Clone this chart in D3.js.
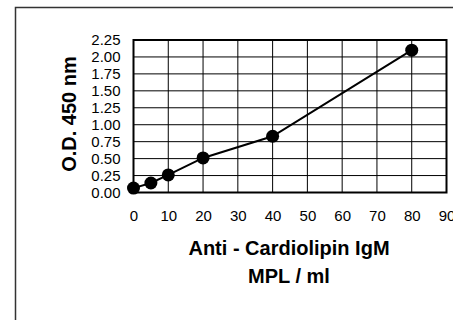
<!DOCTYPE html>
<html>
<head>
<meta charset="utf-8">
<script src="https://cdn.jsdelivr.net/npm/d3@7"></script>
<style>
  body { margin: 0; background: #fff; }
  svg { display: block; font-family: "Liberation Sans", Arial, sans-serif; }
</style>
</head>
<body>
<script>
const conc = [0, 5, 10, 20, 40, 80];
const od = [0.065, 0.14, 0.26, 0.51, 0.83, 2.10];
const xTicks = [0, 10, 20, 30, 40, 50, 60, 70, 80, 90];
const yTicks = [0, 0.25, 0.5, 0.75, 1, 1.25, 1.5, 1.75, 2, 2.25];

const width = 453;
const height = 320;
const plotL = 133.5, plotR = 446.5, plotT = 40, plotB = 192.5;

const svg = d3.select('body')
    .append('svg')
    .attr('width', width)
    .attr('height', height);

// outer frame (only left/top visible)
svg.append('rect')
    .attr('x', 15.5)
    .attr('y', 7.5)
    .attr('width', 460)
    .attr('height', 330)
    .attr('fill', 'none')
    .attr('stroke', '#333')
    .attr('stroke-width', 1.5);

const x = d3.scaleLinear().domain([0, 90]).range([plotL, plotR]);
const y = d3.scaleLinear().domain([0, 2.25]).range([plotB, plotT]);

// grid
svg.append('g')
    .selectAll('line')
    .data(xTicks)
    .enter()
    .append('line')
    .attr('x1', d => x(d)).attr('x2', d => x(d))
    .attr('y1', plotT).attr('y2', plotB)
    .attr('stroke', '#000').attr('stroke-width', 1);

svg.append('g')
    .selectAll('line')
    .data(yTicks)
    .enter()
    .append('line')
    .attr('x1', plotL).attr('x2', plotR)
    .attr('y1', d => y(d)).attr('y2', d => y(d))
    .attr('stroke', '#000').attr('stroke-width', 1);

svg.append('rect')
    .attr('x', plotL).attr('y', plotT)
    .attr('width', plotR - plotL).attr('height', plotB - plotT)
    .attr('fill', 'none')
    .attr('stroke', '#000')
    .attr('stroke-width', 2);

// axes (labels only)
const yAxis = d3.axisLeft(y)
    .tickValues(yTicks)
    .tickSize(0)
    .tickPadding(13)
    .tickFormat(d3.format('.2f'));

const yg = svg.append('g')
    .attr('transform', 'translate(' + plotL + ',0)')
    .call(yAxis);
yg.select('.domain').remove();
yg.selectAll('text').style('font-size', '15px').style('fill', '#000');

const xAxis = d3.axisBottom(x)
    .tickValues(xTicks)
    .tickSize(0)
    .tickPadding(18);

const xg = svg.append('g')
    .attr('transform', 'translate(0,' + plotB + ')')
    .call(xAxis);
xg.select('.domain').remove();
xg.selectAll('text').style('font-size', '15px').style('fill', '#000');

// titles
svg.append('text')
    .attr('x', 289).attr('y', 255)
    .attr('text-anchor', 'middle')
    .style('font-size', '20px').style('font-weight', 'bold')
    .text('Anti - Cardiolipin IgM');

svg.append('text')
    .attr('x', 289).attr('y', 283)
    .attr('text-anchor', 'middle')
    .style('font-size', '20px').style('font-weight', 'bold')
    .text('MPL / ml');

svg.append('text')
    .attr('transform', 'translate(76,114) rotate(-90)')
    .attr('text-anchor', 'middle')
    .style('font-size', '20px').style('font-weight', 'bold')
    .text('O.D. 450 nm');

// series
const pts = conc.map((c, i) => ({ c: c, v: od[i] }));

svg.append('path')
    .datum(pts)
    .attr('fill', 'none')
    .attr('stroke', '#000')
    .attr('stroke-width', 2)
    .attr('d', d3.line().x(d => x(d.c)).y(d => y(d.v)));

svg.selectAll('circle')
    .data(pts)
    .enter()
    .append('circle')
    .attr('cx', d => x(d.c))
    .attr('cy', d => y(d.v))
    .attr('r', 6.5)
    .attr('fill', '#000');
</script>
</body>
</html>
